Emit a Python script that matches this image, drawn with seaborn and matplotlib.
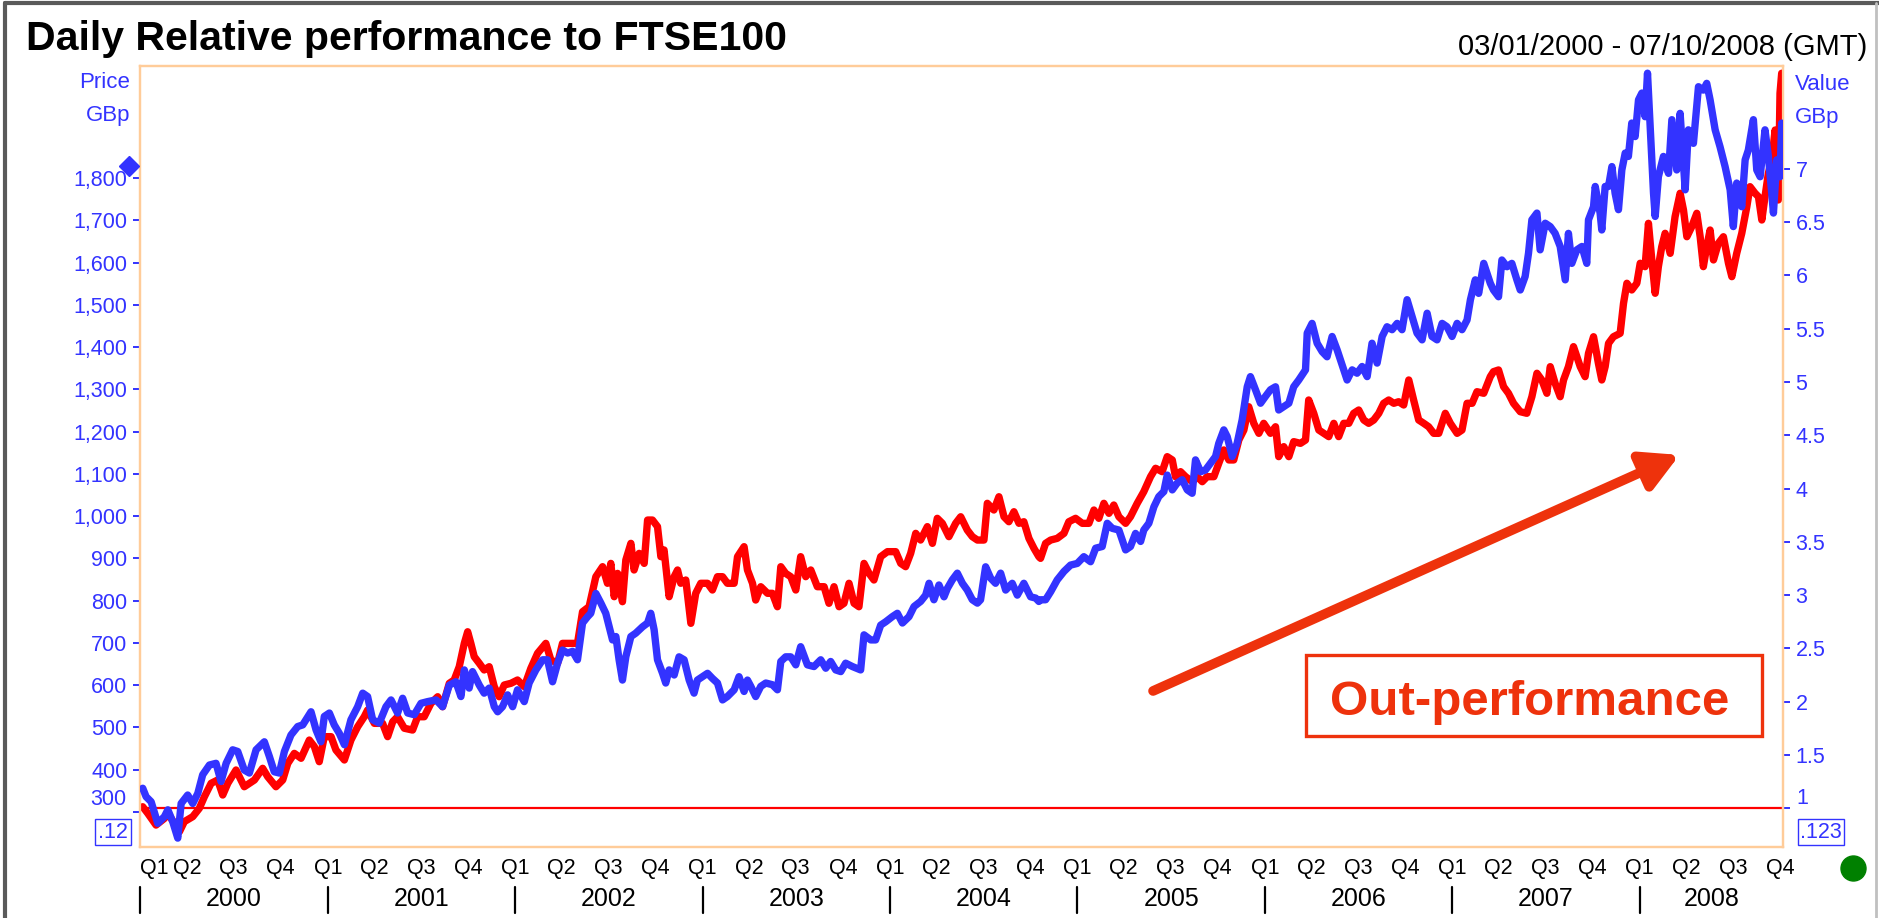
import datetime as dt
import matplotlib
matplotlib.use("Agg")
import matplotlib.pyplot as plt
import matplotlib.transforms as mtrans
from matplotlib.lines import Line2D
from matplotlib.patches import Rectangle
from matplotlib.ticker import FuncFormatter
import seaborn as sns

# ---------------- data ----------------
title = "Daily Relative performance to FTSE100"
date_range = "03/01/2000 - 07/10/2008 (GMT)"
annotation_text = "Out-performance"
start_date = dt.date(2000, 1, 3)
end_date = dt.date(2008, 10, 7)
years = [2000, 2001, 2002, 2003, 2004, 2005, 2006, 2007, 2008]
quarter_labels = ["Q1", "Q2", "Q3", "Q4"]
price_ticks = [300, 400, 500, 600, 700, 800, 900, 1000, 1100, 1200, 1300,
               1400, 1500, 1600, 1700, 1800]
value_ticks = [1, 1.5, 2, 2.5, 3, 3.5, 4, 4.5, 5, 5.5, 6, 6.5, 7]
price_limits = [217, 2065]
value_limits = [0.634, 7.967]
base_value = 1

# relative performance (right axis, "Value"), decimal years
red_t = [
    2000.012, 2000.039, 2000.083, 2000.128, 2000.146, 2000.181, 2000.208, 2000.234, 2000.279, 2000.314,
    2000.341, 2000.377, 2000.412, 2000.439, 2000.466, 2000.510, 2000.554, 2000.608, 2000.652, 2000.679,
    2000.723, 2000.759, 2000.786, 2000.821, 2000.857, 2000.901, 2000.928, 2000.954, 2000.981, 2001.017,
    2001.043, 2001.088, 2001.123, 2001.159, 2001.194, 2001.212, 2001.248, 2001.292, 2001.319, 2001.346,
    2001.372, 2001.408, 2001.452, 2001.479, 2001.514, 2001.550, 2001.586, 2001.612, 2001.648, 2001.674,
    2001.701, 2001.728, 2001.746, 2001.763, 2001.781, 2001.808, 2001.834, 2001.861, 2001.888, 2001.914,
    2001.941, 2001.977, 2002.012, 2002.048, 2002.083, 2002.119, 2002.163, 2002.190, 2002.226, 2002.252,
    2002.297, 2002.332, 2002.359, 2002.394, 2002.430, 2002.466, 2002.492, 2002.510, 2002.528, 2002.546,
    2002.572, 2002.590, 2002.617, 2002.634, 2002.661, 2002.688, 2002.706, 2002.732, 2002.759, 2002.777,
    2002.794, 2002.821, 2002.848, 2002.866, 2002.883, 2002.910, 2002.937, 2002.963, 2002.990, 2003.026,
    2003.052, 2003.079, 2003.106, 2003.132, 2003.168, 2003.186, 2003.221, 2003.239, 2003.266, 2003.283,
    2003.310, 2003.346, 2003.372, 2003.399, 2003.417, 2003.443, 2003.470, 2003.497, 2003.523, 2003.550,
    2003.577, 2003.612, 2003.648, 2003.674, 2003.701, 2003.728, 2003.754, 2003.781, 2003.808, 2003.834,
    2003.861, 2003.888, 2003.914, 2003.950, 2003.986, 2004.030, 2004.057, 2004.083, 2004.110, 2004.137,
    2004.163, 2004.199, 2004.226, 2004.252, 2004.279, 2004.314, 2004.350, 2004.377, 2004.412, 2004.439,
    2004.466, 2004.501, 2004.519, 2004.554, 2004.581, 2004.608, 2004.634, 2004.661, 2004.688, 2004.714,
    2004.741, 2004.768, 2004.794, 2004.803, 2004.830, 2004.857, 2004.892, 2004.928, 2004.954, 2004.990,
    2005.026, 2005.061, 2005.088, 2005.114, 2005.141, 2005.168, 2005.194, 2005.221, 2005.257, 2005.283,
    2005.319, 2005.354, 2005.390, 2005.417, 2005.452, 2005.479, 2005.506, 2005.523, 2005.550, 2005.577,
    2005.612, 2005.639, 2005.666, 2005.692, 2005.728, 2005.754, 2005.781, 2005.808, 2005.834, 2005.861,
    2005.888, 2005.914, 2005.941, 2005.968, 2005.994, 2006.030, 2006.057, 2006.074, 2006.101, 2006.128,
    2006.154, 2006.190, 2006.217, 2006.234, 2006.261, 2006.288, 2006.314, 2006.341, 2006.368, 2006.394,
    2006.421, 2006.448, 2006.474, 2006.501, 2006.528, 2006.554, 2006.581, 2006.608, 2006.634, 2006.661,
    2006.688, 2006.714, 2006.741, 2006.768, 2006.794, 2006.821, 2006.848, 2006.874, 2006.901, 2006.928,
    2006.963, 2006.990, 2007.026, 2007.052, 2007.079, 2007.106, 2007.132, 2007.168, 2007.203, 2007.220,
    2007.247, 2007.274, 2007.300, 2007.327, 2007.363, 2007.398, 2007.425, 2007.452, 2007.478, 2007.505,
    2007.523, 2007.549, 2007.576, 2007.594, 2007.620, 2007.647, 2007.665, 2007.683, 2007.709, 2007.727,
    2007.754, 2007.780, 2007.798, 2007.816, 2007.834, 2007.860, 2007.896, 2007.914, 2007.932, 2007.958,
    2007.985, 2008.003, 2008.029, 2008.047, 2008.065, 2008.083, 2008.100, 2008.118, 2008.136, 2008.163,
    2008.189, 2008.216, 2008.234, 2008.252, 2008.278, 2008.305, 2008.323, 2008.340, 2008.358, 2008.376,
    2008.394, 2008.420, 2008.447, 2008.474, 2008.492, 2008.518, 2008.545, 2008.572, 2008.589, 2008.616,
    2008.634, 2008.652, 2008.669, 2008.687, 2008.705, 2008.723, 2008.740, 2008.749, 2008.758, 2008.766,
]
red_v = [
    1.012, 0.950, 0.840, 0.903, 0.950, 0.856, 0.778, 0.872, 0.919, 0.997,
    1.106, 1.232, 1.263, 1.122, 1.232, 1.357, 1.200, 1.263, 1.373, 1.294,
    1.200, 1.263, 1.419, 1.513, 1.467, 1.638, 1.576, 1.435, 1.670, 1.670,
    1.545, 1.451, 1.638, 1.763, 1.857, 1.920, 1.795, 1.795, 1.670, 1.810,
    1.857, 1.749, 1.732, 1.857, 1.857, 1.983, 2.045, 1.951, 2.171, 2.202,
    2.327, 2.546, 2.655, 2.546, 2.421, 2.359, 2.296, 2.327, 2.139, 2.045,
    2.155, 2.171, 2.202, 2.139, 2.311, 2.453, 2.546, 2.390, 2.359, 2.546,
    2.546, 2.546, 2.843, 2.890, 3.172, 3.266, 3.110, 3.297, 2.984, 3.203,
    2.937, 3.329, 3.485, 3.235, 3.391, 3.297, 3.704, 3.704, 3.642, 3.360,
    3.423, 2.984, 3.172, 3.235, 3.110, 3.141, 2.734, 3.016, 3.110, 3.110,
    3.047, 3.172, 3.172, 3.110, 3.110, 3.360, 3.454, 3.235, 3.110, 2.953,
    3.078, 3.016, 3.016, 2.890, 3.266, 3.203, 3.172, 3.047, 3.360, 3.172,
    3.235, 3.078, 3.078, 2.922, 3.078, 2.890, 2.922, 3.110, 2.922, 2.890,
    3.297, 3.203, 3.141, 3.360, 3.407, 3.407, 3.297, 3.266, 3.391, 3.579,
    3.516, 3.642, 3.485, 3.720, 3.673, 3.548, 3.673, 3.735, 3.610, 3.548,
    3.516, 3.516, 3.861, 3.798, 3.923, 3.735, 3.688, 3.782, 3.673, 3.688,
    3.532, 3.438, 3.360, 3.344, 3.485, 3.516, 3.532, 3.579, 3.688, 3.720,
    3.673, 3.673, 3.798, 3.720, 3.861, 3.767, 3.845, 3.735, 3.673, 3.735,
    3.861, 3.970, 4.111, 4.190, 4.158, 4.299, 4.268, 4.111, 4.158, 4.111,
    4.064, 4.111, 4.064, 4.111, 4.111, 4.236, 4.362, 4.268, 4.268, 4.455,
    4.549, 4.768, 4.612, 4.518, 4.612, 4.518, 4.580, 4.299, 4.393, 4.299,
    4.440, 4.424, 4.455, 4.831, 4.706, 4.549, 4.518, 4.487, 4.612, 4.487,
    4.612, 4.612, 4.706, 4.737, 4.643, 4.612, 4.643, 4.706, 4.800, 4.831,
    4.800, 4.815, 4.784, 5.019, 4.831, 4.643, 4.612, 4.580, 4.518, 4.518,
    4.706, 4.612, 4.518, 4.549, 4.800, 4.800, 4.909, 4.894, 5.050, 5.097,
    5.113, 4.956, 4.894, 4.800, 4.721, 4.706, 4.862, 5.082, 5.019, 4.894,
    5.144, 4.988, 4.862, 5.019, 5.144, 5.332, 5.238, 5.144, 5.050, 5.269,
    5.425, 5.175, 5.019, 5.144, 5.363, 5.425, 5.457, 5.739, 5.927, 5.864,
    5.927, 6.115, 6.083, 6.490, 6.146, 5.833, 6.083, 6.270, 6.396, 6.208,
    6.552, 6.772, 6.615, 6.364, 6.458, 6.584, 6.364, 6.083, 6.270, 6.427,
    6.146, 6.302, 6.364, 6.115, 5.989, 6.208, 6.396, 6.646, 6.834, 6.772,
    6.740, 6.521, 6.740, 6.960, 7.085, 7.366, 6.709, 7.711, 7.899, 7.836,
]

# share price (left axis, "Price GBp"), decimal years
blue_t = [
    2000.012, 2000.030, 2000.057, 2000.092, 2000.128, 2000.146, 2000.172, 2000.199, 2000.217, 2000.252,
    2000.279, 2000.306, 2000.332, 2000.368, 2000.403, 2000.430, 2000.457, 2000.492, 2000.519, 2000.554,
    2000.581, 2000.617, 2000.661, 2000.688, 2000.714, 2000.741, 2000.768, 2000.803, 2000.839, 2000.866,
    2000.910, 2000.937, 2000.963, 2000.981, 2001.008, 2001.034, 2001.061, 2001.088, 2001.123, 2001.159,
    2001.186, 2001.212, 2001.239, 2001.274, 2001.310, 2001.337, 2001.372, 2001.399, 2001.426, 2001.461,
    2001.497, 2001.532, 2001.577, 2001.612, 2001.648, 2001.683, 2001.710, 2001.728, 2001.754, 2001.772,
    2001.808, 2001.834, 2001.861, 2001.888, 2001.906, 2001.932, 2001.959, 2001.986, 2002.012, 2002.048,
    2002.074, 2002.110, 2002.146, 2002.172, 2002.199, 2002.226, 2002.252, 2002.279, 2002.306, 2002.332,
    2002.359, 2002.386, 2002.403, 2002.430, 2002.457, 2002.483, 2002.519, 2002.537, 2002.554, 2002.572,
    2002.590, 2002.617, 2002.643, 2002.679, 2002.706, 2002.723, 2002.741, 2002.759, 2002.786, 2002.803,
    2002.821, 2002.848, 2002.874, 2002.901, 2002.928, 2002.954, 2002.972, 2002.999, 2003.026, 2003.052,
    2003.079, 2003.106, 2003.132, 2003.168, 2003.194, 2003.221, 2003.239, 2003.257, 2003.283, 2003.310,
    2003.337, 2003.372, 2003.399, 2003.417, 2003.443, 2003.470, 2003.497, 2003.523, 2003.559, 2003.594,
    2003.630, 2003.657, 2003.683, 2003.710, 2003.737, 2003.763, 2003.799, 2003.843, 2003.861, 2003.897,
    2003.923, 2003.950, 2003.977, 2004.012, 2004.039, 2004.066, 2004.101, 2004.128, 2004.163, 2004.190,
    2004.208, 2004.234, 2004.261, 2004.288, 2004.306, 2004.332, 2004.359, 2004.386, 2004.412, 2004.439,
    2004.466, 2004.483, 2004.510, 2004.537, 2004.563, 2004.590, 2004.617, 2004.652, 2004.679, 2004.714,
    2004.750, 2004.777, 2004.794, 2004.803, 2004.830, 2004.857, 2004.892, 2004.928, 2004.963, 2004.999,
    2005.034, 2005.070, 2005.097, 2005.132, 2005.159, 2005.186, 2005.221, 2005.257, 2005.283, 2005.310,
    2005.337, 2005.354, 2005.381, 2005.408, 2005.434, 2005.461, 2005.479, 2005.506, 2005.532, 2005.559,
    2005.586, 2005.612, 2005.630, 2005.657, 2005.683, 2005.710, 2005.737, 2005.754, 2005.781, 2005.799,
    2005.826, 2005.852, 2005.879, 2005.906, 2005.923, 2005.950, 2005.977, 2006.003, 2006.030, 2006.057,
    2006.074, 2006.101, 2006.128, 2006.154, 2006.181, 2006.217, 2006.226, 2006.252, 2006.279, 2006.306,
    2006.332, 2006.359, 2006.386, 2006.412, 2006.439, 2006.466, 2006.492, 2006.519, 2006.546, 2006.572,
    2006.599, 2006.626, 2006.652, 2006.679, 2006.706, 2006.732, 2006.759, 2006.786, 2006.812, 2006.839,
    2006.866, 2006.892, 2006.919, 2006.946, 2006.972, 2006.999, 2007.026, 2007.052, 2007.079, 2007.097,
    2007.123, 2007.141, 2007.168, 2007.203, 2007.220, 2007.247, 2007.265, 2007.292, 2007.318, 2007.345,
    2007.363, 2007.389, 2007.407, 2007.425, 2007.452, 2007.469, 2007.496, 2007.523, 2007.549, 2007.576,
    2007.603, 2007.620, 2007.638, 2007.665, 2007.692, 2007.718, 2007.727, 2007.754, 2007.763, 2007.789,
    2007.798, 2007.816, 2007.834, 2007.852, 2007.869, 2007.887, 2007.905, 2007.923, 2007.940, 2007.958,
    2007.976, 2007.994, 2008.012, 2008.029, 2008.042, 2008.056, 2008.074, 2008.083, 2008.100, 2008.127,
    2008.154, 2008.172, 2008.198, 2008.216, 2008.243, 2008.260, 2008.287, 2008.314, 2008.340, 2008.358,
    2008.376, 2008.403, 2008.429, 2008.456, 2008.483, 2008.500, 2008.518, 2008.545, 2008.563, 2008.580,
    2008.607, 2008.625, 2008.643, 2008.669, 2008.687, 2008.705, 2008.714, 2008.732, 2008.749, 2008.758,
    2008.766,
]
blue_p = [
    356, 336, 324, 273, 289, 305, 277, 238, 320, 340,
    320, 344, 388, 411, 415, 372, 415, 447, 443, 399,
    392, 447, 466, 431, 395, 392, 443, 482, 502, 506,
    537, 494, 466, 526, 534, 506, 486, 459, 518, 549,
    581, 573, 518, 510, 549, 565, 534, 569, 534, 530,
    557, 561, 565, 549, 600, 608, 573, 636, 593, 632,
    600, 581, 593, 549, 537, 549, 577, 549, 589, 561,
    605, 636, 660, 660, 608, 652, 683, 676, 680, 660,
    747, 762, 770, 817, 794, 770, 707, 715, 660, 612,
    667, 715, 723, 738, 747, 770, 731, 660, 628, 605,
    636, 624, 667, 660, 612, 581, 612, 620, 628, 616,
    605, 565, 573, 589, 620, 585, 612, 597, 573, 597,
    605, 601, 589, 656, 667, 667, 648, 691, 648, 644,
    660, 640, 656, 636, 632, 652, 644, 636, 719, 707,
    707, 742, 750, 762, 770, 747, 762, 786, 798, 813,
    841, 802, 837, 809, 829, 849, 865, 841, 825, 802,
    794, 802, 880, 853, 841, 865, 825, 841, 813, 841,
    809, 806, 798, 802, 802, 821, 849, 869, 884, 888,
    904, 892, 924, 928, 983, 971, 967, 920, 928, 959,
    940, 967, 983, 1022, 1046, 1058, 1097, 1062, 1078, 1086,
    1062, 1054, 1133, 1105, 1109, 1125, 1141, 1172, 1204, 1188,
    1141, 1172, 1228, 1306, 1330, 1299, 1267, 1283, 1299, 1306,
    1251, 1259, 1267, 1306, 1322, 1346, 1433, 1456, 1409, 1389,
    1377, 1425, 1393, 1358, 1322, 1346, 1338, 1354, 1330, 1409,
    1362, 1425, 1448, 1441, 1456, 1441, 1512, 1472, 1433, 1417,
    1480, 1425, 1417, 1456, 1448, 1425, 1456, 1441, 1464, 1512,
    1559, 1527, 1598, 1551, 1535, 1519, 1606, 1590, 1598, 1559,
    1535, 1567, 1622, 1701, 1717, 1630, 1693, 1685, 1669, 1638,
    1559, 1669, 1598, 1630, 1638, 1598, 1701, 1732, 1780, 1717,
    1677, 1780, 1780, 1827, 1764, 1725, 1819, 1859, 1851, 1930,
    1898, 1985, 2001, 1945, 2048, 1922, 1764, 1709, 1803, 1851,
    1811, 1938, 1819, 1953, 1772, 1914, 1882, 2016, 2008, 2024,
    1985, 1914, 1874, 1827, 1772, 1685, 1788, 1732, 1843, 1866,
    1938, 1819, 1803, 1914, 1851, 1764, 1717, 1843, 1803, 1930,
    1811,
]

# ---------------- helpers ----------------
def dec_year(d):
    y0 = dt.date(d.year, 1, 1)
    y1 = dt.date(d.year + 1, 1, 1)
    return d.year + (d - y0).days / (y1 - y0).days

BLUE = "#3333FF"
RED = "#FF0000"
ORANGE = "#EE320C"
FRAME = "#FFCC99"

W, H = 1879, 918
sns.set_style("white")
plt.rcParams["font.family"] = ["Liberation Sans", "DejaVu Sans"]

fig = plt.figure(figsize=(W / 100, H / 100), dpi=100)
ax = fig.add_axes([140 / W, 1 - 847 / H, 1643 / W, 781 / H])
axr = ax.twinx()

# relative performance line (right axis)
axr.axhline(base_value, color=RED, lw=1.6, zorder=1)
sns.lineplot(x=red_t, y=red_v, ax=axr, color=RED, linewidth=5.3,
             estimator=None, sort=False, solid_joinstyle="round",
             solid_capstyle="round", zorder=3)
# price line (left axis), drawn above
sns.lineplot(x=blue_t, y=blue_p, ax=ax, color=BLUE, linewidth=5.3,
             estimator=None, sort=False, solid_joinstyle="round",
             solid_capstyle="round", zorder=3)
ax.set_zorder(axr.get_zorder() + 1)
ax.patch.set_visible(False)

x0 = dec_year(start_date) - 0.008
x1 = dec_year(end_date)
ax.set_xlim(x0, x1)
ax.set_ylim(*price_limits)
axr.set_ylim(*value_limits)
for a in (ax, axr):
    a.set_xlabel("")
    a.set_ylabel("")
    a.grid(False)
    for s in a.spines.values():
        s.set_color(FRAME)
        s.set_linewidth(1.6)

# left (price) ticks
ax.set_yticks(price_ticks)
ax.yaxis.set_major_formatter(FuncFormatter(
    lambda v, p: "" if v == price_ticks[0] else f"{v:,.0f}"))
ax.tick_params(axis="y", direction="out", length=5, width=1.4,
               colors=BLUE, labelsize=15.5, pad=4)
ax.annotate(f"{price_ticks[0]:,}", xy=(0, price_ticks[0]),
            xycoords=mtrans.blended_transform_factory(ax.transAxes, ax.transData),
            xytext=(-9.5, 9), textcoords="offset points", ha="right",
            va="center", color=BLUE, fontsize=15.5)

# right (value) ticks
axr.set_yticks(value_ticks)
axr.yaxis.set_major_formatter(FuncFormatter(
    lambda v, p: "" if v == value_ticks[0] else f"{v:g}"))
axr.tick_params(axis="y", direction="out", length=5, width=1.4,
                colors=BLUE, labelsize=15.5, pad=4)
axr.annotate(f"{value_ticks[0]:g}", xy=(1, value_ticks[0]),
             xycoords=mtrans.blended_transform_factory(axr.transAxes, axr.transData),
             xytext=(9.5, 7), textcoords="offset points", ha="left",
             va="center", color=BLUE, fontsize=15.5)

# quarter ticks
q_pos, q_lab = [], []
for y in years:
    for i, m in enumerate([1, 4, 7, 10]):
        d = dt.date(y, m, 1)
        if d <= end_date:
            q_pos.append(dec_year(d))
            q_lab.append(quarter_labels[i])
ax.set_xticks(q_pos)
ax.set_xticklabels(q_lab)
ax.tick_params(axis="x", direction="out", length=5, width=1.4,
               colors="black", labelsize=15.5, pad=3)
ax.get_xticklabels()[0].set_ha("left")

# year separators and labels
trans = mtrans.blended_transform_factory(ax.transData, ax.transAxes)
for y in years:
    ax.plot([y, y], [-0.051, -0.085], transform=trans, color="black",
            lw=1.6, clip_on=False)
    mid = (max(y, x0) + min(y + 1, x1)) / 2
    ax.text(mid, -0.066, str(y), transform=trans, ha="center", va="center",
            fontsize=18, color="black")

# annotation arrow and boxed label
ax.annotate("", xy=(0.937, 0.502), xytext=(0.6166, 0.1998),
            xycoords="axes fraction", textcoords="axes fraction",
            arrowprops=dict(arrowstyle="-|>,head_length=1.1,head_width=0.6",
                            color=ORANGE, lw=7, mutation_scale=20,
                            shrinkA=0, shrinkB=0))
ax.add_patch(Rectangle((0.7097, 0.1421), 0.2775, 0.1037,
                       transform=ax.transAxes, fill=False,
                       edgecolor=ORANGE, lw=2.4, clip_on=False))
ax.text(0.8455, 0.169, annotation_text, transform=ax.transAxes,
        ha="center", va="baseline", fontsize=35.5, fontweight="bold",
        color=ORANGE)

# header texts
fig.text(26 / W, 1 - 50 / H, title, fontsize=29.5, fontweight="bold",
         ha="left", va="baseline", color="black")
fig.text(1867 / W, 1 - 55 / H, date_range, fontsize=21, ha="right",
         va="baseline", color="black")

# axis unit labels
fig.text(130 / W, 1 - 82 / H, "Price", fontsize=16, color=BLUE,
         ha="right", va="center")
fig.text(130 / W, 1 - 115 / H, "GBp", fontsize=16, color=BLUE,
         ha="right", va="center")
fig.text(1795 / W, 1 - 85 / H, "Value", fontsize=16, color=BLUE,
         ha="left", va="center")
fig.text(1795 / W, 1 - 118 / H, "GBp", fontsize=16, color=BLUE,
         ha="left", va="center")

# small boxed scale labels
box = dict(boxstyle="square,pad=0.12", fc="none", ec=BLUE, lw=1.0)
fig.text(113 / W, 1 - 832 / H, ".12", fontsize=15.5, color=BLUE,
         ha="center", va="center", bbox=box)
fig.text(1821 / W, 1 - 832 / H, ".123", fontsize=15.5, color=BLUE,
         ha="center", va="center", bbox=box)

# marker decorations
fig.add_artist(Line2D([129 / W], [1 - 166 / H], marker="D", markersize=10,
                      color=BLUE, transform=fig.transFigure))
fig.add_artist(Line2D([1853 / W], [1 - 868 / H], marker="o", markersize=18,
                      color="#008000", transform=fig.transFigure))

# outer frame
fig.add_artist(Line2D([5 / W, 5 / W], [0, 1 - 3 / H], color="#5a5a5a",
                      lw=3, transform=fig.transFigure))
fig.add_artist(Line2D([5 / W, 1], [1 - 3 / H, 1 - 3 / H], color="#5a5a5a",
                      lw=3, transform=fig.transFigure))
fig.add_artist(Line2D([1876 / W, 1876 / W], [0, 1 - 3 / H], color="#c0c0c0",
                      lw=2, transform=fig.transFigure))

fig.savefig("out.png", dpi=100, facecolor="white")
